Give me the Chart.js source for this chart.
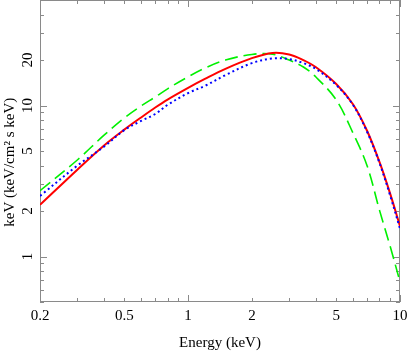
<!DOCTYPE html>
<html>
<head>
<meta charset="utf-8">
<script src="https://cdn.jsdelivr.net/npm/chart.js@4"></script>
<style>
  html, body { margin: 0; padding: 0; background: #fff; }
  canvas { display: block; }
</style>
</head>
<body>
<canvas id="spec" width="415" height="352"></canvas>
<script>
// energy grid (keV) shared by all three curves
const energy = [0.2, 0.3, 0.4, 0.5, 0.6, 0.7, 0.8, 1.0, 1.2, 1.5, 2.0, 2.5, 3.0, 3.5, 4.0, 5.0, 6.0, 7.0, 8.0, 9.0, 10];

// E^2 N(E), keV (keV/cm^2 s keV)
const redFlux   = [2.20, 3.76, 5.42, 6.93, 8.34, 9.71, 10.96, 13.1, 15.0, 17.5, 20.6, 22.3, 21.8, 20.0, 18.0, 13.9, 10.2, 6.78, 4.23, 2.59, 1.59];
const greenFlux = [2.73, 4.36, 6.34, 8.28, 9.94, 11.4, 12.9, 15.5, 17.7, 20.0, 21.8, 21.9, 20.0, 18.0, 15.5, 10.9, 6.58, 3.98, 2.03, 1.16, 0.68];
const blueFlux  = [2.52, 4.00, 5.33, 6.87, 7.91, 8.79, 10.1, 12.1, 13.5, 15.9, 19.1, 20.5, 20.3, 19.1, 17.5, 13.7, 10.1, 6.68, 4.17, 2.52, 1.53];

const xTicks = [0.2, 0.5, 1, 2, 5, 10];
const yTicks = [1, 2, 5, 10, 20];

// small/large tick marks drawn on all four sides
const xMarks = [0.2, 0.3, 0.4, 0.5, 0.6, 0.7, 0.8, 0.9, 1, 2, 3, 4, 5, 6, 7, 8, 9, 10];
const yMarks = [0.5, 0.6, 0.7, 0.8, 0.9, 1, 2, 3, 4, 5, 6, 7, 8, 9, 10, 20, 30, 40, 50];
const decades = [0.1, 1, 10, 100];

function points(ys) {
    return energy.map((e, i) => ({ x: e, y: ys[i] }));
}

const frameTicks = {
    id: 'frameTicks',
    beforeDatasetsDraw(chart) {
        const { ctx, chartArea: a, scales: { x, y } } = chart;
        ctx.save();
        ctx.strokeStyle = '#8a8a8a';
        ctx.lineWidth = 1;
        ctx.beginPath();
        xMarks.forEach(v => {
            const px = Math.round(x.getPixelForValue(v)) + 0.5;
            const len = decades.includes(v) ? 7 : 4;
            ctx.moveTo(px, a.bottom); ctx.lineTo(px, a.bottom - len);
            ctx.moveTo(px, a.top); ctx.lineTo(px, a.top + len);
        });
        yMarks.forEach(v => {
            const py = Math.round(y.getPixelForValue(v)) + 0.5;
            const len = decades.includes(v) ? 7 : 4;
            ctx.moveTo(a.left, py); ctx.lineTo(a.left + len, py);
            ctx.moveTo(a.right, py); ctx.lineTo(a.right - len, py);
        });
        ctx.stroke();
        ctx.strokeRect(a.left + 0.5, a.top + 0.5, a.right - a.left - 1, a.bottom - a.top - 1);
        ctx.restore();
    }
};

Chart.defaults.font.family = '"Liberation Serif", "DejaVu Serif", serif';
Chart.defaults.font.size = 15;
Chart.defaults.color = '#000';

new Chart(document.getElementById('spec'), {
    type: 'line',
    data: {
        datasets: [{
            label: 'data',
            data: points(blueFlux),
            borderColor: '#0000ff',
            borderWidth: 2,
            borderDash: [2, 3],
            order: 0
        }, {
            label: 'model',
            data: points(redFlux),
            borderColor: '#ff0000',
            borderWidth: 2,
            order: 1
        }, {
            label: 'model 2',
            data: points(greenFlux),
            borderColor: '#00f000',
            borderWidth: 1.6,
            borderDash: [13, 6],
            order: 2
        }]
    },
    options: {
        responsive: false,
        animation: false,
        devicePixelRatio: 1,
        layout: { padding: { top: 0, right: 15, bottom: 0, left: 0 } },
        elements: {
            point: { radius: 0 },
            line: { tension: 0.35, fill: false }
        },
        plugins: {
            legend: { display: false },
            tooltip: { enabled: false }
        },
        scales: {
            x: {
                type: 'logarithmic',
                min: 0.2,
                max: 10,
                grid: { display: false, drawTicks: false },
                border: { display: false },
                afterBuildTicks: s => { s.ticks = xTicks.map(v => ({ value: v })); },
                afterFit: s => { s.height = 50; s.paddingLeft = 0; s.paddingRight = 0; },
                ticks: { autoSkip: false, maxRotation: 0, padding: 5, callback: v => String(v) },
                title: { display: true, text: 'Energy (keV)', padding: { top: 0, bottom: 0 } }
            },
            y: {
                type: 'logarithmic',
                min: 0.5,
                max: 50,
                grid: { display: false, drawTicks: false },
                border: { display: false },
                afterBuildTicks: s => { s.ticks = yTicks.map(v => ({ value: v })); },
                afterFit: s => { s.width = 40; s.paddingTop = 0; s.paddingBottom = 0; },
                ticks: { autoSkip: false, minRotation: 90, maxRotation: 90, crossAlign: 'center', padding: 4, callback: v => String(v) },
                title: { display: true, text: 'keV (keV/cm\u00b2 s keV)\u2003\u2002', padding: { top: 1, bottom: 0 } }
            }
        }
    },
    plugins: [frameTicks]
});
</script>
</body>
</html>
